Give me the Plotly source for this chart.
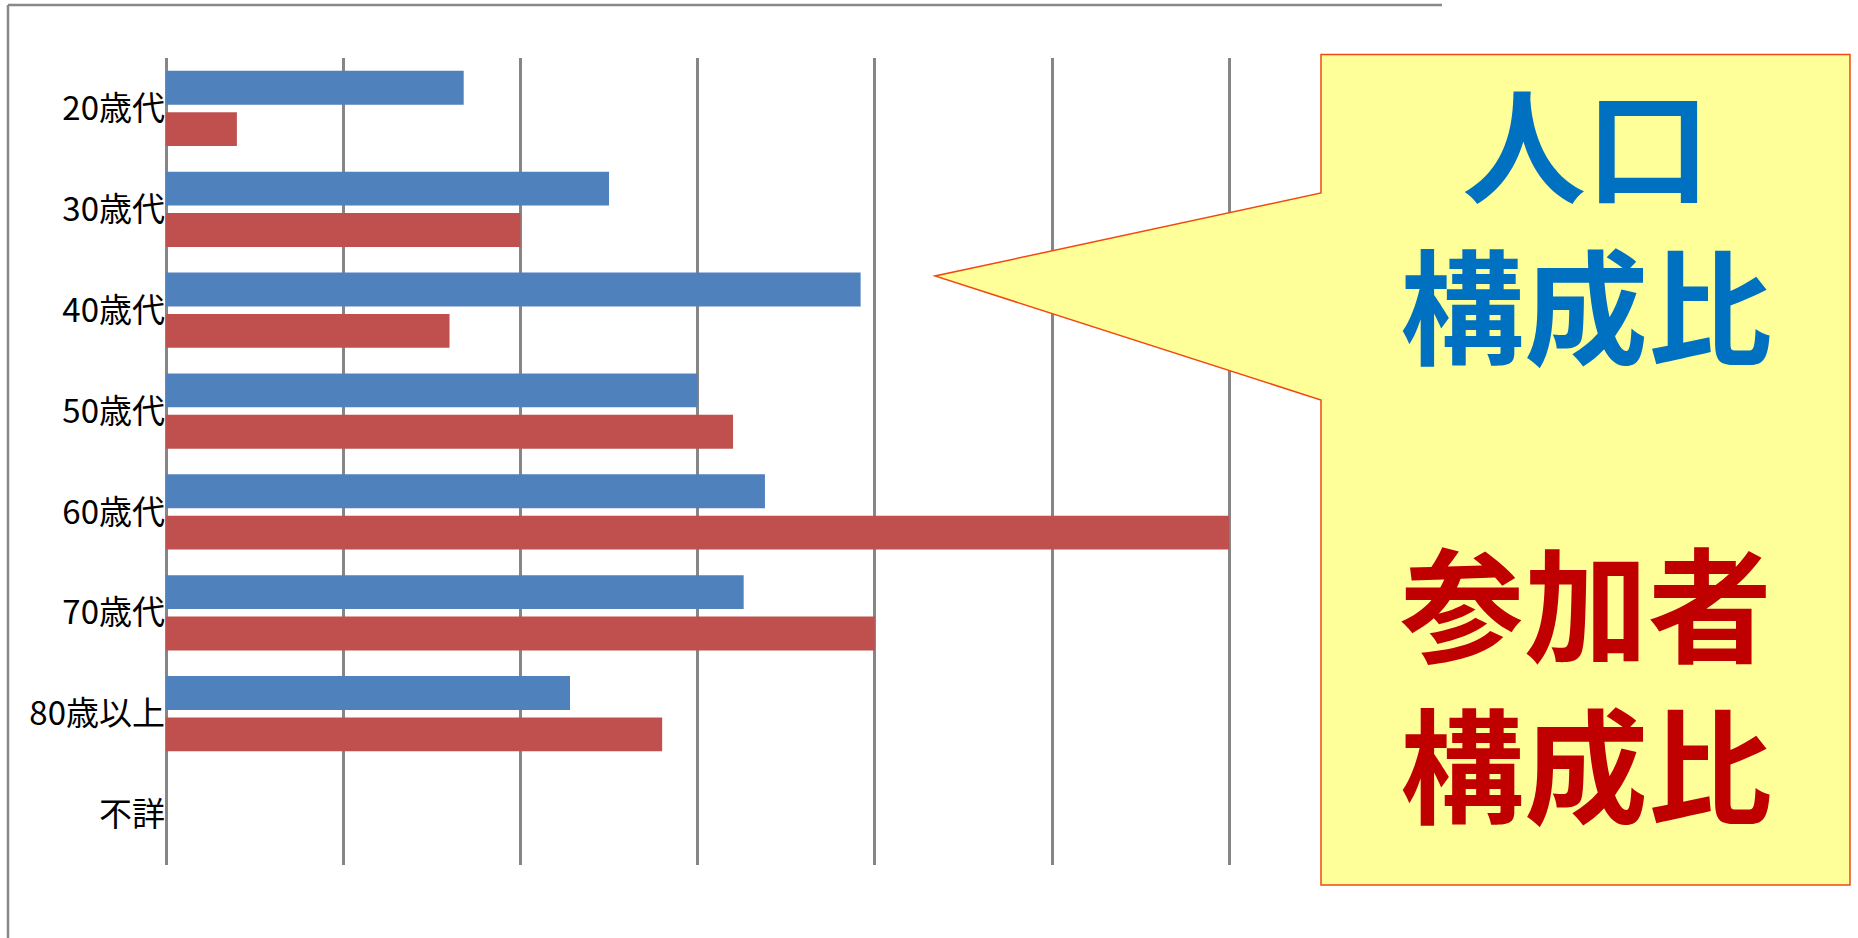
import plotly.graph_objects as go

W, H = 1858, 938

categories = ["20歳代", "30歳代", "40歳代", "50歳代", "60歳代", "70歳代", "80歳以上", "不詳"]
population_share = [8.4, 12.5, 19.6, 15.0, 16.9, 16.3, 11.4, None]
participant_share = [2.0, 10.0, 8.0, 16.0, 30.0, 20.0, 14.0, None]

callout_blocks = [
    (["人口", "構成比"], "#0070C0"),
    (["参加者", "構成比"], "#C00000"),
]

def px(x):
    return x / W

def py(y):
    return 1 - y / H

fig = go.Figure()
fig.add_trace(go.Bar(y=categories, x=population_share, orientation="h",
                     marker=dict(color="#4F81BD", line=dict(width=0)), name="人口構成比"))
fig.add_trace(go.Bar(y=categories, x=participant_share, orientation="h",
                     marker=dict(color="#C0504D", line=dict(width=0)), name="参加者構成比"))

fig.update_layout(
    width=W, height=H,
    margin=dict(l=0, r=0, t=0, b=0),
    paper_bgcolor="white", plot_bgcolor="white",
    showlegend=False,
    barmode="group", bargap=0.179, bargroupgap=0.18,
    xaxis=dict(domain=[px(166), px(1406.4)], range=[0, 35], dtick=5, tick0=0,
               showgrid=True, gridcolor="#868686", gridwidth=2.5,
               zeroline=True, zerolinecolor="#868686", zerolinewidth=2.5,
               showticklabels=False, ticks="", showline=False, fixedrange=True),
    yaxis=dict(domain=[py(865), py(58)], autorange="reversed",
               showgrid=False, zeroline=False, showline=False, ticks="",
               tickfont=dict(family="Noto Sans CJK JP", size=33, color="black"),
               ticklabelstandoff=0, fixedrange=True),
)

# chart frame (top and left edges)
fig.add_shape(type="line", xref="paper", yref="paper",
              x0=px(8), y0=py(5), x1=px(1442), y1=py(5),
              line=dict(color="#888888", width=2.5))
fig.add_shape(type="line", xref="paper", yref="paper",
              x0=px(8), y0=py(5), x1=px(8), y1=py(940),
              line=dict(color="#888888", width=2.5))

# callout shape
pts = [(1321, 54.5), (1850, 54.5), (1850, 885), (1321, 885), (1321, 400),
       (935, 276), (1321, 193)]
path = "M " + " L ".join(f"{px(x):.5f},{py(y):.5f}" for x, y in pts) + " Z"
fig.add_shape(type="path", xref="paper", yref="paper", path=path,
              fillcolor="#FFFF99", line=dict(color="#F04A10", width=1.5), layer="above")

centers = [220, 679]
for (lines, col), cy in zip(callout_blocks, centers):
    fig.add_annotation(xref="paper", yref="paper", x=px(1585.5), y=py(cy),
                       xanchor="center", yanchor="middle", showarrow=False,
                       align="center",
                       text="<br>".join(f"<b>{t}</b>" for t in lines),
                       font=dict(family="Noto Sans CJK JP", size=124, color=col))

fig.write_html("out.html")
